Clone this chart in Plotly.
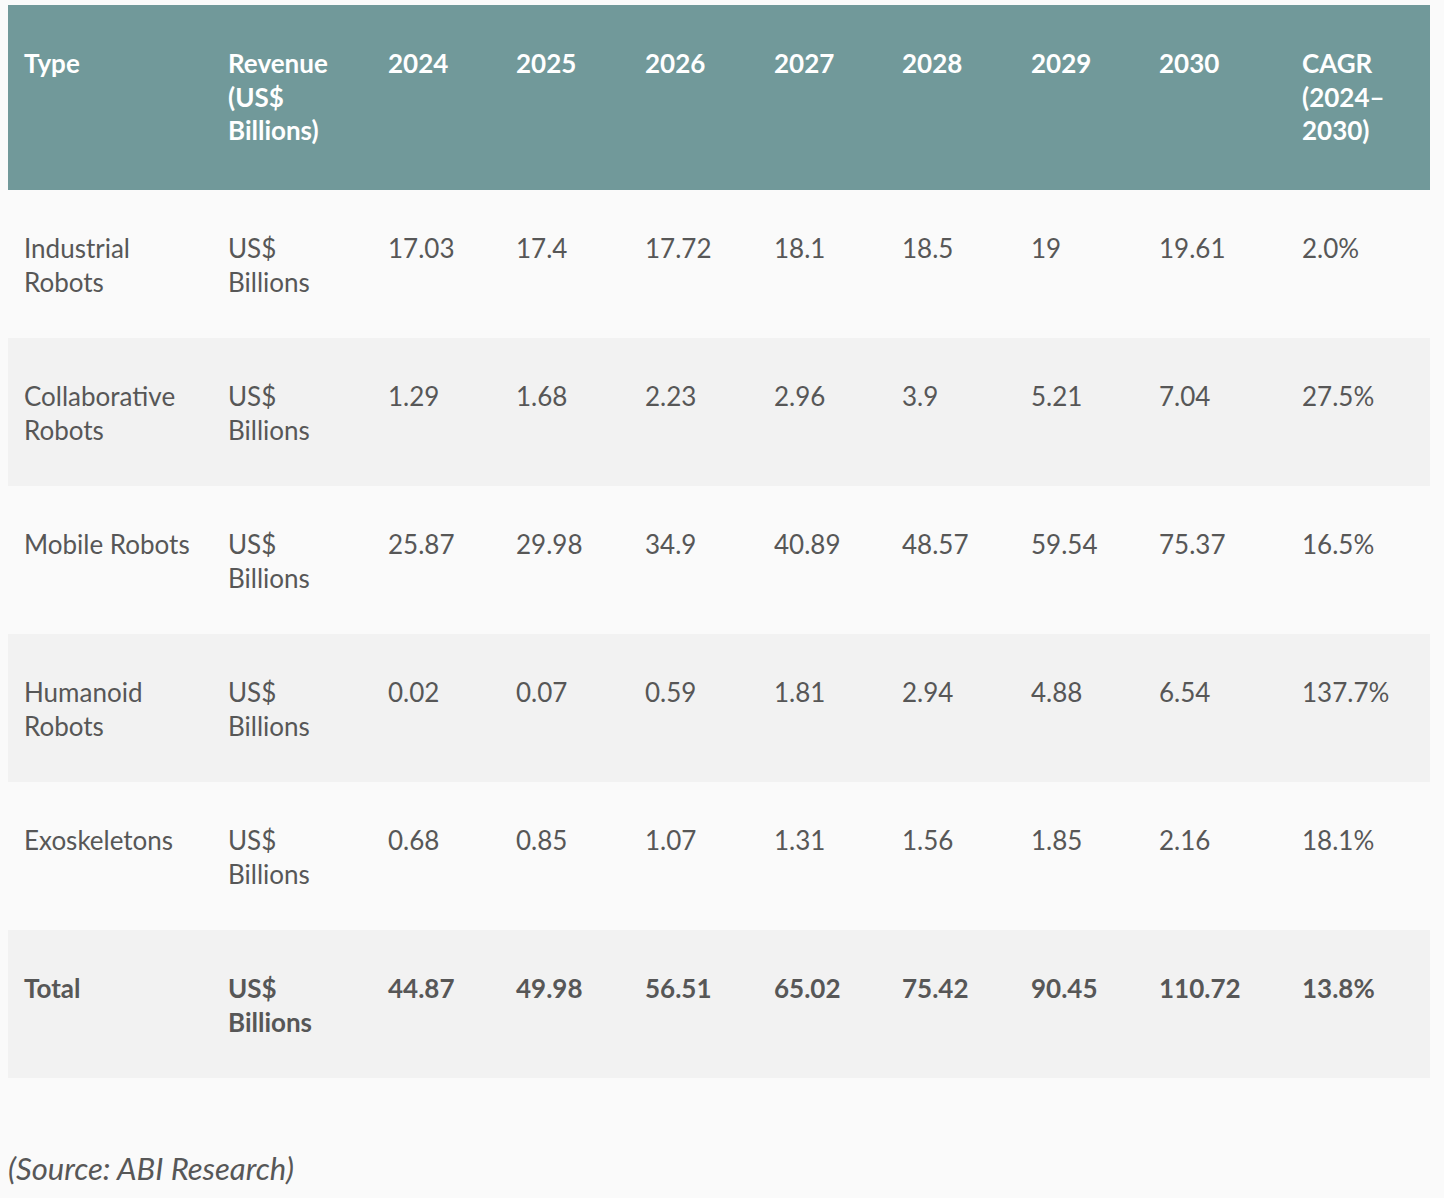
import plotly.graph_objects as go

header_labels = ["Type", "Revenue<br>(US$<br>Billions)", "2024", "2025", "2026", "2027",
                 "2028", "2029", "2030", "CAGR<br>(2024–<br>2030)"]
row_types = ["Industrial<br>Robots", "Collaborative<br>Robots", "Mobile Robots",
             "Humanoid<br>Robots", "Exoskeletons", "Total"]
unit_label = "US$<br>Billions"
years = ["2024", "2025", "2026", "2027", "2028", "2029", "2030"]
val_2024 = ["17.03", "1.29", "25.87", "0.02", "0.68", "44.87"]
val_2025 = ["17.4", "1.68", "29.98", "0.07", "0.85", "49.98"]
val_2026 = ["17.72", "2.23", "34.9", "0.59", "1.07", "56.51"]
val_2027 = ["18.1", "2.96", "40.89", "1.81", "1.31", "65.02"]
val_2028 = ["18.5", "3.9", "48.57", "2.94", "1.56", "75.42"]
val_2029 = ["19", "5.21", "59.54", "4.88", "1.85", "90.45"]
val_2030 = ["19.61", "7.04", "75.37", "6.54", "2.16", "110.72"]
cagr = ["2.0%", "27.5%", "16.5%", "137.7%", "18.1%", "13.8%"]
source_note = "(Source: ABI Research)"

BG = "#fafafa"
ALT = "#f2f2f2"
HEAD = "#71999a"
TXT = "#575757"
FONT = "Lato"
SPACER = "\u00a0<br>"

columns = [row_types, [unit_label] * len(row_types), val_2024, val_2025, val_2026,
           val_2027, val_2028, val_2029, val_2030, cagr]

def fmt(col):
    out = []
    for i, v in enumerate(col):
        v = "<b>" + v.replace("<br>", "</b><br><b>") + "</b>" if i == len(col) - 1 else v
        out.append(SPACER + v)
    return out

cell_values = [[""] * len(row_types)] + [fmt(c) for c in columns]
header_values = [""] + [SPACER + "<b>" + h.replace("<br>", "</b><br><b>") + "</b>" for h in header_labels]

row_fills = [BG if i % 2 == 0 else ALT for i in range(len(row_types))]
ncols = len(cell_values)

widths = [8, 204, 160, 128, 129, 129, 128, 129, 128, 143, 136]

fig = go.Figure(go.Table(
    domain=dict(x=[8 / 1444, 1430 / 1444], y=[1 - 1078 / 1198, 1 - 5 / 1198]),
    columnwidth=widths,
    header=dict(
        values=header_values,
        fill_color=HEAD,
        line=dict(color=HEAD, width=0),
        align="left",
        height=185,
        font=dict(family=FONT, size=26, color="white"),
    ),
    cells=dict(
        values=cell_values,
        fill_color=[row_fills] * ncols,
        line=dict(color=[row_fills] * ncols, width=0),
        align="left",
        height=148,
        font=dict(family=FONT, size=26, color=TXT),
    ),
))

fig.add_annotation(
    text=f"<i>{source_note}</i>", xref="paper", yref="paper",
    x=6 / 1444, y=1 - 1168 / 1198, xanchor="left", yanchor="middle",
    showarrow=False, font=dict(family=FONT, size=31, color=TXT),
)

fig.update_layout(
    width=1444, height=1198,
    margin=dict(l=0, r=0, t=0, b=0),
    paper_bgcolor=BG, plot_bgcolor=BG,
)

fig.write_html(
    "out.html",
    config={"displayModeBar": False},
    post_script="document.body.style.margin='0';document.body.style.background='#fafafa';",
)
